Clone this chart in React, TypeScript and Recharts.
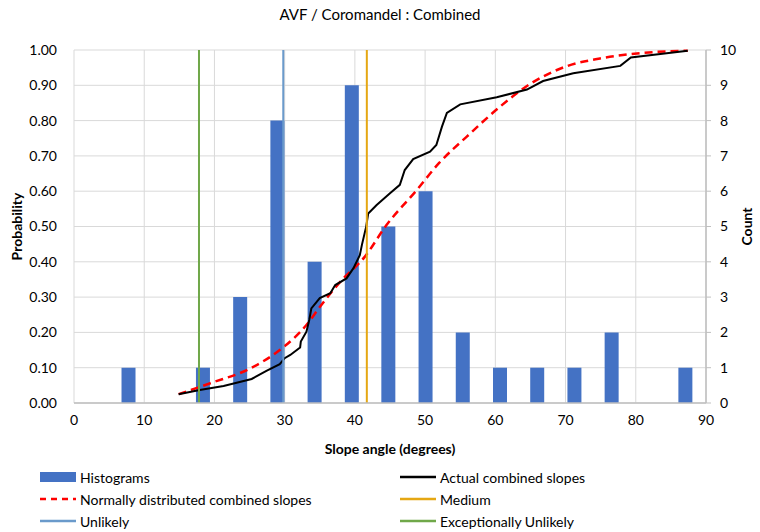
import React from 'react';
import { ComposedChart, Bar, Line, XAxis, YAxis, CartesianGrid, ReferenceLine, Label } from 'recharts';

// Histogram bins (slope angle bin centre, count)
const binCenters = [7.8, 13.1, 18.4, 23.7, 29.0, 34.3, 39.6, 44.8, 50.1, 55.4, 60.7, 66.0, 71.3, 76.6, 81.8, 87.1];
const binCounts = [1, 0, 1, 3, 8, 4, 9, 5, 6, 2, 1, 1, 1, 2, 0, 1];

// Actual combined slopes (cumulative probability)
const actualX = [14.9, 17.9, 21.3, 25.3, 27.4, 29.3, 30.0, 30.8, 32.2, 32.3, 33.1, 33.5, 33.8, 35.0, 36.5, 37.2, 38.8, 39.8, 40.7, 41.0, 41.6, 41.9, 43.1, 45.0, 46.4, 47.1, 48.3, 50.7, 51.6, 52.4, 53.1, 55.0, 60.2, 64.5, 66.8, 71.1, 77.8, 79.3, 83.5, 87.4];
const actualP = [0.025, 0.037, 0.048, 0.068, 0.091, 0.110, 0.127, 0.136, 0.157, 0.174, 0.202, 0.235, 0.268, 0.297, 0.311, 0.334, 0.353, 0.382, 0.419, 0.448, 0.499, 0.537, 0.561, 0.594, 0.618, 0.660, 0.691, 0.712, 0.731, 0.783, 0.822, 0.846, 0.866, 0.888, 0.912, 0.934, 0.955, 0.979, 0.989, 0.998];

// Normally distributed combined slopes
const normalX = [14.9, 19.4, 25.1, 29.3, 33.1, 35.0, 38.0, 41.4, 44.5, 48.8, 52.0, 55.9, 60.7, 64.5, 70.3, 74.9, 80.6, 87.4];
const normalP = [0.025, 0.056, 0.098, 0.150, 0.221, 0.272, 0.345, 0.414, 0.504, 0.603, 0.680, 0.754, 0.840, 0.898, 0.955, 0.976, 0.991, 0.998];

// Reference angles
const exceptionallyUnlikelyAngle = 17.8;
const unlikelyAngle = 29.8;
const mediumAngle = 41.7;

const xTicks = [0, 10, 20, 30, 40, 50, 60, 70, 80, 90];
const probTicks = [0, 0.1, 0.2, 0.3, 0.4, 0.5, 0.6, 0.7, 0.8, 0.9, 1.0];
const countTicks = [0, 1, 2, 3, 4, 5, 6, 7, 8, 9, 10];

const title = 'AVF / Coromandel : Combined';
const xTitle = 'Slope angle (degrees)';
const leftTitle = 'Probability';
const rightTitle = 'Count';

const C = {
  bar: '#4472C4',
  actual: '#000000',
  normal: '#FF0000',
  medium: '#E5A713',
  unlikely: '#6A9ACB',
  exUnlikely: '#70A84A',
  grid: '#D9D9D9',
  axis: '#BFBFBF',
};

const FONT = 'Lato, "Open Sans", sans-serif';

const barData = binCenters.map((x, i) => ({ x, count: binCounts[i] }));
const actualData = actualX.map((x, i) => ({ x, p: actualP[i] }));
const normalData = normalX.map((x, i) => ({ x, p: normalP[i] }));

const legendItems = [
  { name: 'Histograms', kind: 'rect', color: C.bar },
  { name: 'Actual combined slopes', kind: 'line', color: C.actual },
  { name: 'Normally distributed combined slopes', kind: 'dash', color: C.normal },
  { name: 'Medium', kind: 'line', color: C.medium },
  { name: 'Unlikely', kind: 'line', color: C.unlikely },
  { name: 'Exceptionally Unlikely', kind: 'line', color: C.exUnlikely },
];

function LegendIcon({ kind, color }: { kind: string; color: string }) {
  return (
    <svg width={36} height={12} style={{ display: 'block' }}>
      {kind === 'rect' && <rect x={0} y={1} width={36} height={10} fill={color} />}
      {kind === 'line' && <line x1={0} x2={36} y1={6} y2={6} stroke={color} strokeWidth={2.5} />}
      {kind === 'dash' && <line x1={0} x2={36} y1={6} y2={6} stroke={color} strokeWidth={2.5} strokeDasharray="6 5" />}
    </svg>
  );
}

export default function App() {
  return (
    <div style={{ position: 'absolute', left: 0, top: 0, width: 760, height: 532, background: '#fff', fontFamily: FONT }}>
      <div style={{ position: 'absolute', left: 0, top: 5, width: 760, textAlign: 'center', fontSize: 15, color: '#000', fontFamily: FONT }}>
        {title}
      </div>
      <ComposedChart
        width={760}
        height={532}
        data={barData}
        margin={{ top: 50, right: 0, bottom: 69, left: 0 }}
      >
        <CartesianGrid stroke={C.grid} strokeWidth={1} yAxisId="prob" xAxisId="main" />
        <XAxis
          xAxisId="bars"
          type="number"
          dataKey="x"
          domain={[0, 90]}
          hide
          height={0}
        />
        <XAxis
          xAxisId="main"
          type="number"
          dataKey="x"
          domain={[0, 90]}
          ticks={xTicks}
          interval={0}
          height={60}
          tickLine={false}
          axisLine={{ stroke: C.axis, strokeWidth: 1.5 }}
          tick={{ fill: '#000', fontSize: 14, fontFamily: FONT }}
          tickMargin={6}
        >
          <Label
            content={({ viewBox }: any) => (
              <text x={viewBox.x + viewBox.width / 2} y={454} textAnchor="middle" fontSize={14} fontWeight="bold" fontFamily={FONT} fill="#000">
                {xTitle}
              </text>
            )}
          />
        </XAxis>
        <YAxis
          yAxisId="prob"
          orientation="left"
          width={74}
          domain={[0, 1]}
          ticks={probTicks}
          interval={0}
          tickFormatter={(v: number) => v.toFixed(2)}
          axisLine={false}
          tickLine={false}
          tickMargin={11}
          tick={{ fill: '#000', fontSize: 14, fontFamily: FONT }}
        >
          <Label
            content={({ viewBox }: any) => {
              const cx = 22;
              const cy = viewBox.y + viewBox.height / 2;
              return (
                <text x={cx} y={cy} transform={`rotate(-90 ${cx} ${cy})`} textAnchor="middle" fontSize={14} fontWeight="bold" fontFamily={FONT} fill="#000">
                  {leftTitle}
                </text>
              );
            }}
          />
        </YAxis>
        <YAxis
          yAxisId="count"
          orientation="right"
          width={54}
          domain={[0, 10]}
          ticks={countTicks}
          interval={0}
          axisLine={{ stroke: C.axis, strokeWidth: 1.5 }}
          tickLine={{ stroke: C.axis }}
          tickSize={5}
          tickMargin={9}
          tick={{ fill: '#000', fontSize: 14, fontFamily: FONT, textAnchor: 'start' }}
        >
          <Label
            content={({ viewBox }: any) => {
              const cx = 752;
              const cy = viewBox.y + viewBox.height / 2;
              return (
                <text x={cx} y={cy} transform={`rotate(-90 ${cx} ${cy})`} textAnchor="middle" fontSize={14} fontWeight="bold" fontFamily={FONT} fill="#000">
                  {rightTitle}
                </text>
              );
            }}
          />
        </YAxis>
        <Bar xAxisId="bars" yAxisId="count" dataKey="count" fill={C.bar} barSize={14} isAnimationActive={false} />
        <Line
          xAxisId="main"
          yAxisId="prob"
          data={normalData}
          dataKey="p"
          type="monotone"
          stroke={C.normal}
          strokeWidth={2.5}
          strokeDasharray="8 5"
          dot={false}
          activeDot={false}
          isAnimationActive={false}
        />
        <Line
          xAxisId="main"
          yAxisId="prob"
          data={actualData}
          dataKey="p"
          type="linear"
          stroke={C.actual}
          strokeWidth={2}
          dot={false}
          activeDot={false}
          isAnimationActive={false}
        />
        <ReferenceLine xAxisId="main" yAxisId="prob" x={mediumAngle} stroke={C.medium} strokeWidth={2} />
        <ReferenceLine xAxisId="main" yAxisId="prob" x={unlikelyAngle} stroke={C.unlikely} strokeWidth={2} />
        <ReferenceLine xAxisId="main" yAxisId="prob" x={exceptionallyUnlikelyAngle} stroke={C.exUnlikely} strokeWidth={2} />
      </ComposedChart>
      <div style={{ position: 'absolute', left: 40, top: 466, width: 720, fontFamily: FONT, fontSize: 14, color: '#000' }}>
        {[0, 1, 2].map((row) => (
          <div key={row} style={{ display: 'flex', height: 22, alignItems: 'center' }}>
            {[0, 1].map((col) => {
              const it = legendItems[row * 2 + col];
              return (
                <div key={col} style={{ display: 'flex', alignItems: 'center', width: 403 }}>
                  <LegendIcon kind={it.kind} color={it.color} />
                  <span style={{ marginLeft: 4, whiteSpace: 'nowrap' }}>{it.name}</span>
                </div>
              );
            })}
          </div>
        ))}
      </div>
    </div>
  );
}
